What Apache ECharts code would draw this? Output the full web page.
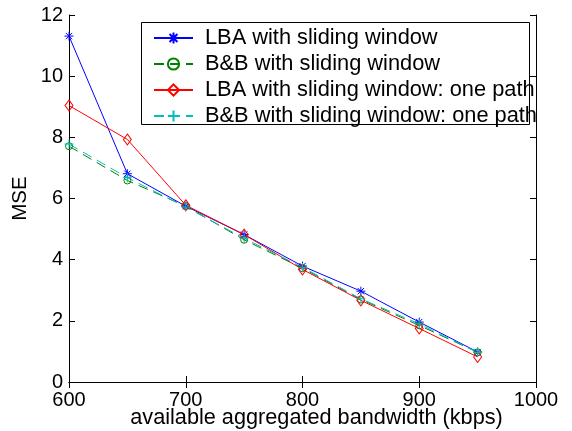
<!DOCTYPE html>
<html><head><meta charset="utf-8">
<script src="https://cdn.jsdelivr.net/npm/echarts@6/dist/echarts.min.js"></script>
<style>html,body{margin:0;padding:0;background:#fff}#c{width:572px;height:431px}</style>
</head><body><div id="c"></div>
<script>
const xValues = [600, 650, 700, 750, 800, 850, 900, 950];
const lbaSW = [11.31, 6.81, 5.75, 4.82, 3.79, 2.97, 1.96, 0.98];
const bbSW = [7.71, 6.59, 5.75, 4.65, 3.72, 2.70, 1.85, 0.97];
const lbaSWOne = [9.04, 7.93, 5.78, 4.82, 3.68, 2.67, 1.75, 0.82];
const bbSWOne = [7.78, 6.68, 5.72, 4.70, 3.75, 2.72, 1.90, 0.97];
const seriesNames = ['LBA with sliding window', 'B&B with sliding window', 'LBA with sliding window: one path', 'B&B with sliding window: one path'];
const xTitle = 'available aggregated bandwidth (kbps)';
const yTitle = 'MSE';

const FONT = 'Liberation Sans, Arial, sans-serif';
const pairs = a => xValues.map((x, i) => [x, a[i]]);
const star = 'path://M0,-5L0,5M-5,0L5,0M-3.5,-3.5L3.5,3.5M-3.5,3.5L3.5,-3.5';
const plus = 'path://M0,-5L0,5M-5,0L5,0';

function mk(name, data, color, symbol, size, dashed) {
  return {
    name, type: 'line', data: pairs(data), symbol, symbolSize: size,
    xAxisIndex: 0, yAxisIndex: 0,
    lineStyle: { color, width: 1, type: dashed ? [10, 6] : 'solid' },
    itemStyle: { color: 'none', borderColor: color, borderWidth: 1 },
    emphasis: { disabled: true }, animation: false
  };
}

const chart = echarts.init(document.getElementById('c'));
const axisCommon = {
  axisLine: { lineStyle: { color: '#000', width: 1 } },
  axisTick: { inside: true, length: 6, lineStyle: { color: '#000' } },
  splitLine: { show: false }
};
chart.setOption({
  animation: false,
  grid: { left: 69, right: 36, top: 15, bottom: 49, containLabel: false, outerBoundsMode: 'none' },
  xAxis: [
    Object.assign({ type: 'value', min: 600, max: 1000, interval: 100, position: 'bottom',
      name: xTitle, nameLocation: 'middle', nameGap: 25, nameMoveOverlap: false,
      nameTextStyle: { fontFamily: FONT, fontSize: 21.7, color: '#000', padding: [0, 0, 0, 28] },
      axisLabel: { fontFamily: FONT, fontSize: 20, color: '#000', margin: 8, formatter: v => String(v) } }, axisCommon),
    Object.assign({ type: 'value', min: 600, max: 1000, interval: 100, position: 'top',
      axisLabel: { show: false } }, axisCommon)
  ],
  yAxis: [
    Object.assign({ type: 'value', min: 0, max: 12, interval: 2, position: 'left',
      name: yTitle, nameLocation: 'middle', nameGap: 38, nameMoveOverlap: false,
      nameTextStyle: { fontFamily: FONT, fontSize: 20.5, color: '#000' },
      axisLabel: { fontFamily: FONT, fontSize: 20, color: '#000', margin: 6 } }, axisCommon),
    Object.assign({ type: 'value', min: 0, max: 12, interval: 2, position: 'right',
      axisLabel: { show: false } }, axisCommon)
  ],
  graphic: [{
    type: 'rect', left: 141, top: 22, z: 0,
    shape: { width: 388, height: 102 },
    style: { fill: '#fff', stroke: '#000', lineWidth: 1 }
  }],
  legend: {
    orient: 'vertical', left: 153, top: 27, padding: 0, itemGap: 4,
    itemWidth: 39, itemHeight: 14, z: 10,
    data: seriesNames,
    formatter: n => '{t|' + n + '}',
    textStyle: { color: '#000', rich: { t: { fontFamily: FONT, fontSize: 21.8, color: '#000', lineHeight: 20, padding: [0, 0, 0, 7] } } },
    selectedMode: false
  },
  series: [
    mk(seriesNames[0], lbaSW, '#0000ff', star, 9, false),
    mk(seriesNames[1], bbSW, '#008000', 'circle', 7, true),
    mk(seriesNames[2], lbaSWOne, '#ff0000', 'diamond', [8, 11], false),
    mk(seriesNames[3], bbSWOne, '#00bfbf', plus, 9, true)
  ]
});
</script></body></html>
